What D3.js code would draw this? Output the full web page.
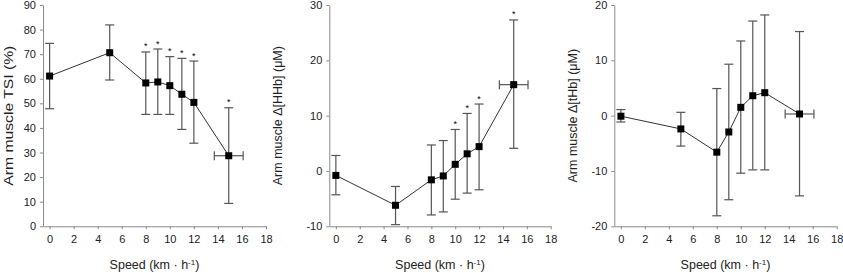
<!DOCTYPE html>
<html>
<head>
<meta charset="utf-8">
<style>
  body { margin: 0; background: #fff; }
  text { font-family: "Liberation Sans", Arial, sans-serif; }
</style>
</head>
<body>
<script src="https://d3js.org/d3.v7.min.js"></script>
<script>
// speed stages (km/h); last stage is the peak speed with its own SD
const speed = [0, 5, 8, 9, 10, 11, 12, 14.9]
const speedSd = [0, 0, 0, 0, 0, 0, 0, 1.2]
const xTicks = [0, 2, 4, 6, 8, 10, 12, 14, 16, 18]

const tsiMean = [61.1, 70.6, 58.3, 58.7, 57.2, 53.7, 50.4, 28.7]
const tsiHigh = [74.4, 81.9, 70.9, 72.1, 69.0, 68.3, 67.2, 48.2]
const tsiLow = [47.8, 59.5, 45.5, 45.5, 45.5, 39.4, 33.8, 9.3]
const tsiSig = [0, 0, 1, 1, 1, 1, 1, 1]
const tsiTicks = [0, 10, 20, 30, 40, 50, 60, 70, 80, 90]

const hhbMean = [-0.8, -6.2, -1.6, -0.9, 1.2, 3.1, 4.4, 15.6]
const hhbHigh = [2.8, -2.8, 4.7, 5.5, 7.5, 10.4, 12.1, 27.3]
const hhbLow = [-4.3, -9.7, -7.95, -7.4, -5.1, -4.0, -3.4, 4.1]
const hhbSig = [0, 0, 0, 0, 1, 1, 1, 1]
const hhbTicks = [-10, 0, 10, 20, 30]

const thbMean = [-0.1, -2.4, -6.6, -2.95, 1.5, 3.6, 4.15, 0.3]
const thbHigh = [1.1, 0.6, 4.9, 9.3, 13.5, 17.1, 18.2, 15.2]
const thbLow = [-1.15, -5.5, -18.1, -15.2, -10.4, -9.8, -9.8, -14.5]
const thbSig = [0, 0, 0, 0, 0, 0, 0, 0]
const thbTicks = [-20, -10, 0, 10, 20]

const w = 843
const h = 273
const yTop = 5
const yBottom = 226.3

const svg = d3.select('body')
    .append('svg')
    .attr('width', w)
    .attr('height', h)

const panels = [
    { x0: 43, x1: 266, mean: tsiMean, high: tsiHigh, low: tsiLow, sig: tsiSig, ticks: tsiTicks,
      label: 'Arm muscle TSI (%)', labelX: 9, labelLen: 140 },
    { x0: 329.3, x1: 550.7, mean: hhbMean, high: hhbHigh, low: hhbLow, sig: hhbSig, ticks: hhbTicks,
      label: 'Arm muscle \u0394[HHb] (\u03bcM)', labelX: 278 },
    { x0: 614.3, x1: 836.7, mean: thbMean, high: thbHigh, low: thbLow, sig: thbSig, ticks: thbTicks,
      label: 'Arm muscle \u0394[tHb] (\u03bcM)', labelX: 573 }
]

const axisColor = '#8a8a8a'
const barColor = '#555'

panels.forEach(p => {
    const xScale = d3.scaleLinear().domain([-0.55, 18]).range([p.x0, p.x1])
    const yScale = d3.scaleLinear()
        .domain([p.ticks[0], p.ticks[p.ticks.length - 1]])
        .range([yBottom, yTop])

    const g = svg.append('g')

    const xAxis = g.append('g')
        .attr('transform', 'translate(0,' + yBottom + ')')
        .call(d3.axisBottom(xScale).tickValues(xTicks).tickSize(3).tickSizeOuter(0).tickPadding(6))
    const yAxis = g.append('g')
        .attr('transform', 'translate(' + p.x0 + ',0)')
        .call(d3.axisLeft(yScale).tickValues(p.ticks).tickFormat(d => String(d))
            .tickSize(3).tickSizeOuter(0).tickPadding(4))

    ;[xAxis, yAxis].forEach(a => {
        a.selectAll('path, line').attr('stroke', axisColor)
        a.selectAll('text').attr('fill', '#222').style('font-size', '11px')
            .style('font-family', '"Liberation Sans", Arial, sans-serif')
    })

    const pts = speed.map((s, i) => ({ s: s, sd: speedSd[i], m: p.mean[i], hi: p.high[i], lo: p.low[i], sig: p.sig[i] }))

    // vertical error bars
    const eb = g.append('g').attr('stroke', barColor).attr('stroke-width', 1.2)
    pts.forEach(d => {
        const x = xScale(d.s)
        eb.append('line').attr('x1', x).attr('x2', x).attr('y1', yScale(d.hi)).attr('y2', yScale(d.lo))
        eb.append('line').attr('x1', x - 4.5).attr('x2', x + 4.5).attr('y1', yScale(d.hi)).attr('y2', yScale(d.hi))
        eb.append('line').attr('x1', x - 4.5).attr('x2', x + 4.5).attr('y1', yScale(d.lo)).attr('y2', yScale(d.lo))
        if (d.sd > 0) {
            const y = yScale(d.m)
            eb.append('line').attr('x1', xScale(d.s - d.sd)).attr('x2', xScale(d.s + d.sd)).attr('y1', y).attr('y2', y)
            eb.append('line').attr('x1', xScale(d.s - d.sd)).attr('x2', xScale(d.s - d.sd)).attr('y1', y - 4.5).attr('y2', y + 4.5)
            eb.append('line').attr('x1', xScale(d.s + d.sd)).attr('x2', xScale(d.s + d.sd)).attr('y1', y - 4.5).attr('y2', y + 4.5)
        }
    })

    const line = d3.line().x(d => xScale(d.s)).y(d => yScale(d.m))
    g.append('path')
        .datum(pts)
        .attr('d', line)
        .attr('fill', 'none')
        .attr('stroke', '#333')
        .attr('stroke-width', 1)

    g.selectAll('rect.pt')
        .data(pts)
        .enter()
        .append('rect')
        .attr('class', 'pt')
        .attr('x', d => xScale(d.s) - 3.5)
        .attr('y', d => yScale(d.m) - 3.5)
        .attr('width', 7)
        .attr('height', 7)
        .attr('fill', '#000')

    g.selectAll('text.star')
        .data(pts.filter(d => d.sig))
        .enter()
        .append('text')
        .attr('class', 'star')
        .attr('x', d => xScale(d.s))
        .attr('y', d => yScale(d.hi) - 2.5)
        .attr('text-anchor', 'middle')
        .style('font-size', '9px')
        .attr('fill', '#000')
        .text('*')

    const xt = g.append('text')
        .attr('x', (p.x0 + p.x1) / 2)
        .attr('y', 268.5)
        .attr('text-anchor', 'middle')
        .style('font-size', '12.5px')
        .attr('fill', '#222')
    xt.append('tspan').text('Speed (km \u00b7 h')
    xt.append('tspan').attr('dy', -4).style('font-size', '8px').text('-1')
    xt.append('tspan').attr('dy', 4).text(')')

    const yl = g.append('text')
        .attr('transform', 'translate(' + p.labelX + ',' + ((yTop + yBottom) / 2) + ') rotate(-90)')
        .attr('text-anchor', 'middle')
        .attr('dy', '0.35em')
        .style('font-size', '12.5px')
        .attr('fill', '#222')
        .text(p.label)
    if (p.labelLen) {
        yl.attr('textLength', p.labelLen).attr('lengthAdjust', 'spacingAndGlyphs')
    }
})
</script>
</body>
</html>
